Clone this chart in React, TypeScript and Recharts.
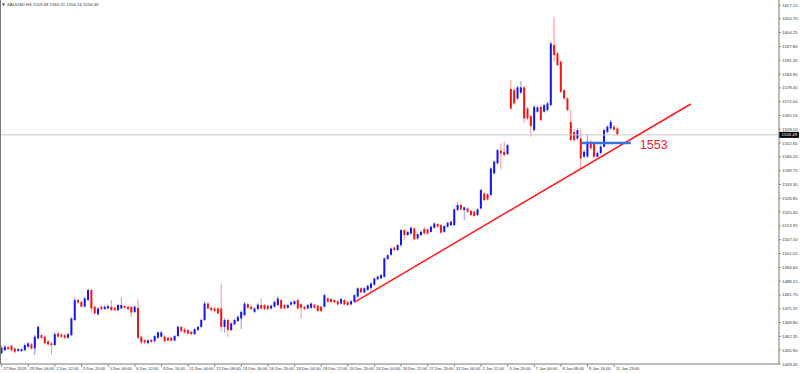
import { ComposedChart, Bar, XAxis, YAxis, ReferenceLine } from "recharts";

// XAUUSD H4 bars, 27 Nov 2019 .. 13 Jan 2020
const opens = [
  1454.4, 1455.9, 1457.3, 1458.0, 1456.7, 1455.6, 1455.5, 1455.9, 1457.5, 1458.6,
  1456.7, 1461.4, 1462.9, 1462.2, 1460.1, 1459.1, 1458.3, 1463.7, 1463.2, 1462.9,
  1461.7, 1462.9, 1470.0, 1479.3, 1478.5, 1476.2, 1479.3, 1484.0, 1476.2, 1472.6,
  1476.2, 1475.1, 1475.4, 1476.2, 1475.7, 1474.6, 1475.4, 1476.5, 1476.2, 1476.2,
  1473.8, 1475.7, 1462.2, 1460.6, 1459.2, 1460.7, 1460.1, 1461.7, 1462.2, 1462.3,
  1461.7, 1461.7, 1460.4, 1462.5, 1466.8, 1465.6, 1465.3, 1464.5, 1463.4, 1465.3,
  1466.8, 1470.0, 1477.7, 1475.7, 1475.4, 1475.4, 1475.4, 1466.8, 1470.0, 1465.3,
  1468.0, 1469.5, 1470.7, 1472.3, 1477.4, 1476.2, 1473.8, 1475.1, 1477.0, 1477.0,
  1476.7, 1475.4, 1476.2, 1477.0, 1479.3, 1477.0, 1475.7, 1477.2, 1477.4, 1479.3,
  1477.4, 1476.2, 1475.4, 1475.7, 1477.2, 1476.7, 1476.2, 1476.2, 1480.1, 1479.8,
  1479.3, 1478.8, 1477.7, 1479.3, 1478.5, 1477.3, 1478.5, 1480.9, 1484.8, 1482.9,
  1484.0, 1485.0, 1486.5, 1489.0, 1489.5, 1490.2, 1498.5, 1500.5, 1503.9, 1502.7,
  1505.0, 1512.0, 1509.7, 1510.4, 1512.8, 1508.1, 1509.7, 1512.5, 1512.3, 1511.2,
  1513.1, 1514.8, 1514.3, 1511.2, 1513.6, 1514.3, 1514.3, 1521.4, 1523.7, 1521.4,
  1522.1, 1521.0, 1520.6, 1519.0, 1522.1, 1529.1, 1528.8, 1528.4, 1538.5, 1543.2,
  1549.1, 1548.6, 1547.5, 1577.9, 1577.4, 1573.5, 1576.2, 1578.7, 1568.8, 1565.3,
  1558.7, 1567.3, 1569.6, 1567.3, 1568.1, 1570.4, 1598.5, 1594.6, 1590.7, 1577.4,
  1573.5, 1562.5, 1557.9, 1554.8, 1554.8, 1546.3, 1546.3, 1553.3, 1552.5, 1546.3,
  1548.0, 1551.0, 1557.9, 1559.5, 1560.3, 1559.48,
];

const highs = [
  1458.0, 1458.3, 1458.0, 1458.6, 1457.2, 1456.8, 1456.8, 1459.0, 1459.8, 1459.3,
  1463.0, 1467.5, 1463.5, 1462.8, 1460.8, 1459.8, 1464.5, 1465.0, 1463.8, 1463.5,
  1464.0, 1471.5, 1480.5, 1480.0, 1479.0, 1481.0, 1484.6, 1484.5, 1476.8, 1476.0,
  1476.8, 1476.8, 1477.2, 1479.3, 1476.3, 1477.6, 1480.4, 1477.0, 1476.8, 1476.6,
  1476.8, 1479.6, 1462.8, 1461.0, 1461.0, 1461.2, 1463.0, 1464.8, 1465.0, 1463.0,
  1462.2, 1462.3, 1463.0, 1467.5, 1467.3, 1466.3, 1465.8, 1465.0, 1466.2, 1467.3,
  1470.6, 1479.0, 1478.3, 1476.2, 1476.0, 1476.0, 1486.8, 1471.0, 1470.8, 1469.0,
  1470.6, 1472.2, 1474.5, 1478.5, 1478.0, 1476.8, 1476.0, 1478.0, 1480.1, 1477.5,
  1477.2, 1477.2, 1479.0, 1481.0, 1479.8, 1477.5, 1477.5, 1478.8, 1479.3, 1480.1,
  1477.9, 1476.7, 1477.5, 1478.2, 1477.7, 1477.2, 1476.7, 1482.3, 1480.6, 1480.3,
  1479.8, 1479.3, 1480.3, 1479.8, 1479.0, 1479.3, 1482.1, 1485.3, 1485.3, 1485.3,
  1486.5, 1487.6, 1489.9, 1490.8, 1491.5, 1499.3, 1500.8, 1503.9, 1504.4, 1505.5,
  1512.5, 1512.5, 1511.7, 1513.6, 1513.3, 1510.6, 1511.7, 1513.6, 1512.8, 1514.1,
  1515.6, 1515.3, 1514.8, 1514.4, 1515.9, 1516.4, 1522.2, 1525.2, 1524.2, 1523.1,
  1522.6, 1521.5, 1521.1, 1522.2, 1531.2, 1529.6, 1529.3, 1541.3, 1544.5, 1549.9,
  1552.5, 1553.2, 1552.2, 1582.1, 1578.5, 1579.5, 1581.5, 1579.2, 1569.5, 1566.0,
  1570.2, 1570.0, 1570.2, 1571.0, 1572.0, 1600.0, 1611.7, 1595.2, 1591.3, 1578.0,
  1574.2, 1568.3, 1559.0, 1559.8, 1559.5, 1549.5, 1557.0, 1554.0, 1553.2, 1549.0,
  1552.0, 1559.5, 1561.0, 1563.5, 1561.0, 1560.31,
];

const lows = [
  1454.0, 1455.5, 1455.8, 1455.4, 1454.2, 1455.2, 1455.0, 1455.5, 1457.0, 1456.2,
  1453.6, 1461.0, 1461.2, 1458.5, 1458.0, 1454.0, 1458.0, 1461.8, 1461.5, 1461.0,
  1461.2, 1462.5, 1469.5, 1477.5, 1475.8, 1475.8, 1478.8, 1473.5, 1472.5, 1472.2,
  1474.5, 1474.6, 1475.0, 1474.2, 1474.0, 1474.2, 1475.0, 1475.2, 1474.6, 1471.5,
  1473.2, 1461.2, 1458.5, 1458.8, 1458.6, 1459.2, 1459.5, 1461.2, 1461.8, 1459.6,
  1460.0, 1459.8, 1460.0, 1462.0, 1464.2, 1463.6, 1463.2, 1462.8, 1463.0, 1464.8,
  1466.3, 1469.5, 1475.0, 1474.0, 1473.5, 1472.5, 1464.5, 1464.2, 1462.2, 1464.5,
  1467.5, 1469.0, 1465.8, 1471.8, 1475.2, 1474.5, 1473.2, 1474.5, 1474.6, 1474.5,
  1474.6, 1474.9, 1475.7, 1476.5, 1474.9, 1474.9, 1475.2, 1476.7, 1476.9, 1474.9,
  1470.7, 1474.6, 1474.9, 1475.2, 1475.2, 1473.8, 1473.6, 1475.7, 1478.0, 1478.0,
  1477.7, 1476.8, 1477.2, 1476.8, 1476.5, 1476.8, 1478.0, 1480.4, 1482.4, 1482.4,
  1483.5, 1482.8, 1486.0, 1488.5, 1489.0, 1489.7, 1498.0, 1500.0, 1502.2, 1502.2,
  1504.0, 1507.3, 1509.2, 1509.9, 1507.2, 1507.6, 1509.2, 1509.9, 1509.9, 1510.7,
  1512.6, 1513.1, 1510.3, 1510.7, 1513.1, 1513.8, 1513.8, 1520.9, 1521.2, 1516.7,
  1520.1, 1518.5, 1518.1, 1518.5, 1521.6, 1525.5, 1525.8, 1527.9, 1538.0, 1542.7,
  1540.4, 1546.6, 1547.0, 1567.8, 1570.5, 1572.8, 1575.5, 1562.0, 1563.5, 1555.6,
  1558.0, 1566.8, 1562.8, 1566.8, 1567.5, 1570.0, 1590.7, 1588.5, 1576.0, 1572.8,
  1567.5, 1553.5, 1553.2, 1554.0, 1540.8, 1545.5, 1545.8, 1549.5, 1545.5, 1545.5,
  1547.2, 1550.5, 1557.2, 1559.0, 1558.4, 1556.16,
];

const closes = [
  1457.0, 1457.5, 1456.4, 1455.9, 1455.2, 1456.4, 1456.3, 1458.3, 1459.1, 1456.7,
  1462.2, 1466.8, 1461.7, 1459.1, 1458.6, 1458.3, 1463.4, 1462.2, 1462.2, 1461.7,
  1463.4, 1470.7, 1479.3, 1478.2, 1476.2, 1480.1, 1484.0, 1475.4, 1473.1, 1475.4,
  1475.1, 1476.2, 1476.5, 1474.6, 1474.6, 1477.0, 1477.0, 1475.7, 1475.1, 1473.5,
  1476.2, 1461.7, 1459.5, 1459.5, 1460.5, 1459.8, 1462.5, 1464.2, 1464.2, 1460.1,
  1460.4, 1460.4, 1462.5, 1466.8, 1464.8, 1464.2, 1463.7, 1463.4, 1465.7, 1466.8,
  1470.0, 1477.7, 1475.4, 1474.6, 1474.2, 1473.1, 1466.8, 1470.0, 1465.3, 1468.4,
  1470.0, 1471.5, 1473.8, 1477.7, 1475.7, 1475.1, 1475.4, 1477.2, 1475.4, 1475.1,
  1475.1, 1476.7, 1478.5, 1480.1, 1475.4, 1475.4, 1477.0, 1478.3, 1478.8, 1475.4,
  1475.7, 1475.1, 1477.0, 1477.7, 1475.7, 1474.2, 1474.2, 1481.6, 1478.5, 1478.5,
  1478.2, 1477.3, 1479.8, 1477.3, 1477.0, 1478.8, 1481.6, 1484.8, 1482.9, 1484.8,
  1486.0, 1487.0, 1489.4, 1490.3, 1491.0, 1498.8, 1500.3, 1503.4, 1502.7, 1505.0,
  1512.0, 1509.7, 1511.2, 1513.1, 1507.7, 1510.1, 1511.2, 1510.4, 1510.4, 1513.6,
  1515.1, 1513.6, 1510.8, 1513.9, 1515.4, 1515.9, 1521.7, 1523.7, 1521.7, 1522.6,
  1520.6, 1519.0, 1518.6, 1521.7, 1530.7, 1526.0, 1526.3, 1540.8, 1544.0, 1549.4,
  1547.8, 1547.1, 1551.7, 1568.8, 1571.2, 1578.7, 1578.7, 1564.2, 1564.2, 1560.6,
  1569.6, 1569.3, 1563.4, 1570.4, 1571.2, 1599.2, 1593.8, 1589.1, 1576.6, 1573.5,
  1568.1, 1554.1, 1554.1, 1558.7, 1545.5, 1548.6, 1553.3, 1550.2, 1546.3, 1548.0,
  1551.0, 1558.7, 1560.3, 1562.6, 1559.0, 1556.49,
];

// one label every 8 bars
const timeLabels = [
  "27 Nov 2019", "29 Nov 04:00", "2 Dec 12:00", "3 Dec 20:00", "5 Dec 04:00",
  "6 Dec 12:00", "9 Dec 16:00", "11 Dec 00:00", "12 Dec 08:00", "13 Dec 16:00",
  "16 Dec 20:00", "18 Dec 04:00", "19 Dec 12:00", "20 Dec 20:00", "24 Dec 00:00",
  "26 Dec 12:00", "27 Dec 20:00", "31 Dec 00:00", "2 Jan 12:00", "3 Jan 20:00",
  "7 Jan 00:00", "8 Jan 08:00", "9 Jan 16:00", "12 Jan 23:00",
];

const priceTicks = [
  1617.15, 1610.7, 1604.25, 1597.8, 1591.35, 1584.9, 1578.45, 1572.0, 1565.55,
  1559.1, 1552.65, 1546.2, 1539.75, 1533.3, 1526.85, 1520.4, 1513.95, 1507.5,
  1501.05, 1494.6, 1488.15, 1481.7, 1475.25, 1468.8, 1462.35, 1455.9, 1449.45,
];

const lastPrice = 1556.49;
const levelPrice = 1552.7;
const trendFrom = { x: 106, y: 1478.4 };
const trendTo = { x: 207, y: 1570.9 };
const levelFrom = 174;
const levelTo = 189;
const totalSlots = 234; // empty space on the right (chart shift)

const rows: any[] = [];
for (let i = 0; i < totalSlots; i++) {
  rows.push({
    i,
    open: opens[i],
    high: highs[i],
    low: lows[i],
    close: closes[i],
  });
}

const BULL = "#1414f0";
const BEAR = "#f01414";
const FONT = "'Liberation Sans', Arial, sans-serif";

const Candle = (props: any) => {
  const { x, y, width, height, payload } = props;
  if (payload.high == null) return <g />;
  const { open, close, high, low } = payload;
  const k = high === low ? 0 : height / (high - low);
  const yO = y + (high - open) * k;
  const yC = y + (high - close) * k;
  const cx = x + width / 2;
  const color = close >= open ? BULL : BEAR;
  return (
    <g>
      <line x1={cx} x2={cx} y1={y} y2={y + height} stroke={color} strokeOpacity={0.45} strokeWidth={1} />
      <rect
        x={cx - 1}
        y={Math.min(yO, yC)}
        width={2}
        height={Math.max(Math.abs(yO - yC), 0.8)}
        fill={color}
      />
    </g>
  );
};

const TimeTick = (props: any) => {
  const { x, y, payload } = props;
  const v = Number(payload.value);
  const label = v % 8 === 0 ? timeLabels[v / 8] : undefined;
  if (!label) return <g />;
  return (
    <g>
      <line x1={x} x2={x} y1={y} y2={y + 3} stroke="#666" strokeWidth={0.7} />
      <text x={x + 1.5} y={y + 6.2} fontSize={4.1} fill="#333" fontFamily={FONT}>
        {label}
      </text>
    </g>
  );
};

const PriceTick = (props: any) => {
  const { x, y, payload } = props;
  return (
    <g>
      <line x1={x} x2={x + 2} y1={y} y2={y} stroke="#666" strokeWidth={0.7} />
      <text x={x + 3} y={y + 1.5} fontSize={4.3} fill="#333" fontFamily={FONT}>
        {Number(payload.value).toFixed(2)}
      </text>
    </g>
  );
};

const PriceBox = (props: any) => {
  const vb = props.viewBox || {};
  const bx = vb.x + vb.width;
  return (
    <g>
      <rect x={bx} y={vb.y - 3} width={20} height={6} fill="#000" />
      <text x={bx + 2.5} y={vb.y + 1.5} fontSize={4.3} fill="#fff" fontFamily={FONT}>
        {lastPrice.toFixed(2)}
      </text>
    </g>
  );
};

const LevelText = (props: any) => {
  const vb = props.viewBox || {};
  return (
    <text x={vb.x + vb.width + 9} y={vb.y + 6.5} fontSize={12.5} fill="#f02222" fontFamily={FONT}>
      1553
    </text>
  );
};

export default function App() {
  return (
    <div style={{ position: "fixed", left: 0, top: 0, width: 800, height: 373, background: "#fff" }}>
      <ComposedChart
        width={800}
        height={373}
        data={rows}
        margin={{ top: 0, right: 0, bottom: 0, left: 0 }}
        barCategoryGap={0}
      >
        <XAxis
          dataKey="i"
          type="category"
          interval={7}
          height={9}
          tickSize={0}
          tickMargin={0}
          tickLine={false}
          axisLine={{ stroke: "#7a7a7a" }}
          tick={<TimeTick />}
        />
        <YAxis
          orientation="right"
          type="number"
          width={21}
          domain={[1449.45, 1619.49]}
          allowDataOverflow
          ticks={priceTicks}
          interval={0}
          tickSize={0}
          tickMargin={0}
          tickLine={false}
          axisLine={{ stroke: "#7a7a7a" }}
          tick={<PriceTick />}
        />
        <ReferenceLine y={lastPrice} stroke="#c8c8c8" strokeWidth={1} label={(p: any) => <PriceBox {...p} />} />
        <Bar
          dataKey={(d: any) => (d.high == null ? undefined : [d.low, d.high])}
          shape={<Candle />}
          isAnimationActive={false}
        />
        <ReferenceLine
          segment={[trendFrom, trendTo]}
          stroke="#ff1a1a"
          strokeWidth={1.5}
          ifOverflow="visible"
        />
        <ReferenceLine
          segment={[
            { x: levelFrom, y: levelPrice },
            { x: levelTo, y: levelPrice },
          ]}
          stroke="#3474dc"
          strokeWidth={2.5}
          ifOverflow="visible"
          label={(p: any) => <LevelText {...p} />}
        />
      </ComposedChart>
      <svg width={800} height={373} style={{ position: "absolute", left: 0, top: 0, pointerEvents: "none" }}>
        <line x1={0.5} x2={0.5} y1={0} y2={364} stroke="#7a7a7a" strokeWidth={1} />
        <path d="M2,3.5 L5,3.5 L3.5,6 Z" fill="#333" />
        <text x={7} y={6.3} fontSize={4.3} fill="#333" fontFamily={FONT}>
          XAUUSD,H4  1559.48 1560.31 1556.16 1556.49
        </text>
      </svg>
    </div>
  );
}
